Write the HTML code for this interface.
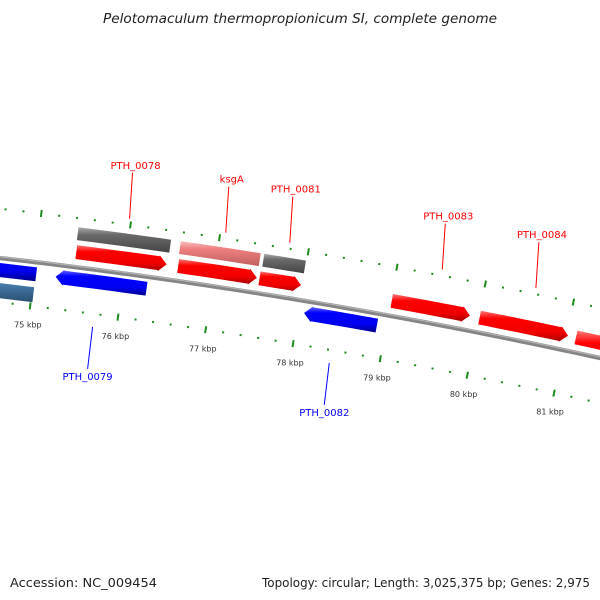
<!DOCTYPE html>
<html><head><meta charset="utf-8"><style>
html,body{margin:0;padding:0;background:#fff;}
svg{display:block;font-family:"DejaVu Sans","Liberation Sans",sans-serif;}
</style></head><body>
<svg id="map" width="600" height="600" viewBox="0 0 600 600" xmlns="http://www.w3.org/2000/svg">
<defs>
<linearGradient id="gRed" x1="0" y1="0" x2="0" y2="1"><stop offset="0" stop-color="#ff7a7a"/><stop offset="0.25" stop-color="#ff0000"/><stop offset="0.7" stop-color="#f00000"/><stop offset="1" stop-color="#a00000"/></linearGradient>
<linearGradient id="gBlue" x1="0" y1="0" x2="0" y2="1"><stop offset="0" stop-color="#6b6bff"/><stop offset="0.25" stop-color="#0000ff"/><stop offset="0.7" stop-color="#0000f0"/><stop offset="1" stop-color="#00008a"/></linearGradient>
<linearGradient id="gSteel" x1="0" y1="0" x2="0" y2="1"><stop offset="0" stop-color="#8fb3d6"/><stop offset="0.3" stop-color="#4f8bc0"/><stop offset="1" stop-color="#2a4f70"/></linearGradient>
<linearGradient id="gGray" x1="0" y1="0" x2="0" y2="1"><stop offset="0" stop-color="#aaaaaa"/><stop offset="0.3" stop-color="#6a6a6a"/><stop offset="1" stop-color="#444444"/></linearGradient>
<linearGradient id="gPink" x1="0" y1="0" x2="0" y2="1"><stop offset="0" stop-color="#f8c0c0"/><stop offset="0.3" stop-color="#f08080"/><stop offset="1" stop-color="#c06060"/></linearGradient>
</defs>
<text x="103" y="23" textLength="394" lengthAdjust="spacingAndGlyphs" font-size="13" font-style="italic" fill="#222">Pelotomaculum thermopropionicum SI, complete genome</text>
<g id="ticks"></g>
<g id="features"></g>
<g id="labels"></g>
<text x="10" y="587" textLength="147" lengthAdjust="spacingAndGlyphs" font-size="12.5" fill="#222">Accession: NC_009454</text>
<text x="262" y="587" textLength="328" lengthAdjust="spacingAndGlyphs" font-size="12.5" fill="#222">Topology: circular; Length: 3,025,375 bp; Genes: 2,975</text>
</svg>
<script>
// data
const featStart = [72.9, 72.9, 75.43, 75.44, 75.245, 76.58, 76.59, 77.52, 77.51, 78.065, 79.01, 80.01, 81.11];
const featEnd   = [75.025, 75.02, 76.47, 76.46, 76.275, 77.48, 77.48, 77.99, 77.98, 78.895, 79.90, 81.02, 83.0];
const featRing  = ["rev1", "rev2", "out", "fwd", "rev1", "out", "fwd", "out", "fwd", "rev1", "fwd", "fwd", "fwd"];
const featKind  = ["blue", "steel", "gray", "red", "blue", "pink", "red", "gray", "red", "blue", "red", "red", "red"];
const featArrow = [false, false, false, true, true, false, true, false, true, true, true, true, true];
const tickKbp = [75, 76, 77, 78, 79, 80, 81];
const tickLabels = ["75 kbp", "76 kbp", "77 kbp", "78 kbp", "79 kbp", "80 kbp", "81 kbp"];
const geneNames = ["PTH_0078", "ksgA", "PTH_0081", "PTH_0083", "PTH_0084", "PTH_0079", "PTH_0082"];
const geneKbp = [75.98, 77.06, 77.78, 79.5, 80.56, 75.73, 78.44];
const geneStrand = ["fwd", "fwd", "fwd", "fwd", "fwd", "rev", "rev"];

// geometry: circle through backbone points
const A=[0,258],B=[380,314],C=[600,358];
function circ(a,b,c){const d=2*(a[0]*(b[1]-c[1])+b[0]*(c[1]-a[1])+c[0]*(a[1]-b[1]));
const a2=a[0]*a[0]+a[1]*a[1],b2=b[0]*b[0]+b[1]*b[1],c2=c[0]*c[0]+c[1]*c[1];
const ux=(a2*(b[1]-c[1])+b2*(c[1]-a[1])+c2*(a[1]-b[1]))/d;const uy=(a2*(c[0]-b[0])+b2*(a[0]-c[0])+c2*(b[0]-a[0]))/d;return [ux,uy];}
const cen=circ(A,B,C);const R=Math.hypot(A[0]-cen[0],A[1]-cen[1]);
const a0=Math.atan2(A[1]-cen[1],A[0]-cen[0]);const k0=74.6, pxPerKbp=89.2;
function ang(k){return a0+(k-k0)*pxPerKbp/R;}
function pt(k,dr){const a=ang(k),r=R+dr;return [cen[0]+r*Math.cos(a),cen[1]+r*Math.sin(a)];}
const NS="http://www.w3.org/2000/svg";
function mk(tag,attrs,parent){const e=document.createElementNS(NS,tag);for(const k in attrs)e.setAttribute(k,attrs[k]);parent.appendChild(e);return e;}
function f(p){return p[0].toFixed(2)+","+p[1].toFixed(2);}

const gT=document.getElementById("ticks"),gF=document.getElementById("features"),gL=document.getElementById("labels");
// backbone
{const pts=[],pts2=[];for(let k=73;k<=83.01;k+=0.1){pts.push(pt(k,0));pts2.push(pt(k,1.2));}
const bb=mk("polyline",{points:pts.map(f).join(" "),fill:"none",stroke:"#858585","stroke-width":4.4},gF);


const hl=mk("polyline",{points:pts2.map(f).join(" "),fill:"none",stroke:"#b4b4b4","stroke-width":1.2},gF);

}

// tick rings
function tickRing(dr,name){for(let i=0;i<=50;i++){const k=73+i*0.2;const major=(i%5===0);
const len=major?7:2;const p1=pt(k,dr+len/2),p2=pt(k,dr-len/2);
const l=mk("line",{x1:p1[0],y1:p1[1],x2:p2[0],y2:p2[1],stroke:"#1c8c1c","stroke-width":2},gT);

}}
tickRing(49,"outer-ruler");tickRing(-44,"inner-ruler");
tickKbp.forEach((k,i)=>{const p=pt(k,-63);const t=mk("text",{x:p[0],y:p[1]+3,"text-anchor":"middle","font-size":"8",fill:"#333"},gT);t.textContent=tickLabels[i];

});

// features
const rings={fwd:[22,8],out:[40,27],rev1:[-5,-19],rev2:[-25,-40]};
const fills={red:"url(#gRed)",blue:"url(#gBlue)",steel:"url(#gSteel)",gray:"url(#gGray)",pink:"url(#gPink)"};
featStart.forEach((s,i)=>{const e=featEnd[i];const [o,n]=rings[featRing[i]];const fwd=featRing[i]==="fwd"||featRing[i]==="out";
const pts=[];const ah=featArrow[i]?0.09:0;let a=s,b=e;
if(featArrow[i]&&fwd)b=e-ah; if(featArrow[i]&&!fwd)a=s+ah;
const N=8;for(let j=0;j<=N;j++)pts.push(pt(a+(b-a)*j/N,o));
if(featArrow[i]&&fwd){pts.push(pt(b,o+1));pts.push(pt(e,(o+n)/2));pts.push(pt(b,n-1));}
for(let j=N;j>=0;j--)pts.push(pt(a+(b-a)*j/N,n));
if(featArrow[i]&&!fwd){pts.push(pt(a,n-1));pts.push(pt(s,(o+n)/2));pts.push(pt(a,o+1));}
const poly=mk("polygon",{points:pts.map(f).join(" "),fill:fills[featKind[i]]},gF);

});

// gene labels
geneNames.forEach((nm,i)=>{const fwd=geneStrand[i]==="fwd";const k=geneKbp[i];
const p1=fwd?pt(k,55):pt(k,-57);const p2=fwd?[p1[0]+3,p1[1]-46]:[p1[0]-5,p1[1]+42];
const col=fwd?"#ff0000":"#0000ff";
const l=mk("line",{x1:p1[0],y1:p1[1],x2:p2[0],y2:p2[1],stroke:col,"stroke-width":1},gL);


const t=mk("text",{x:p2[0]+(fwd?3:0),y:fwd?p2[1]-4:p2[1]+11,"text-anchor":"middle","font-size":"10",fill:col},gL);t.textContent=nm;

});
</script>
</body></html>
